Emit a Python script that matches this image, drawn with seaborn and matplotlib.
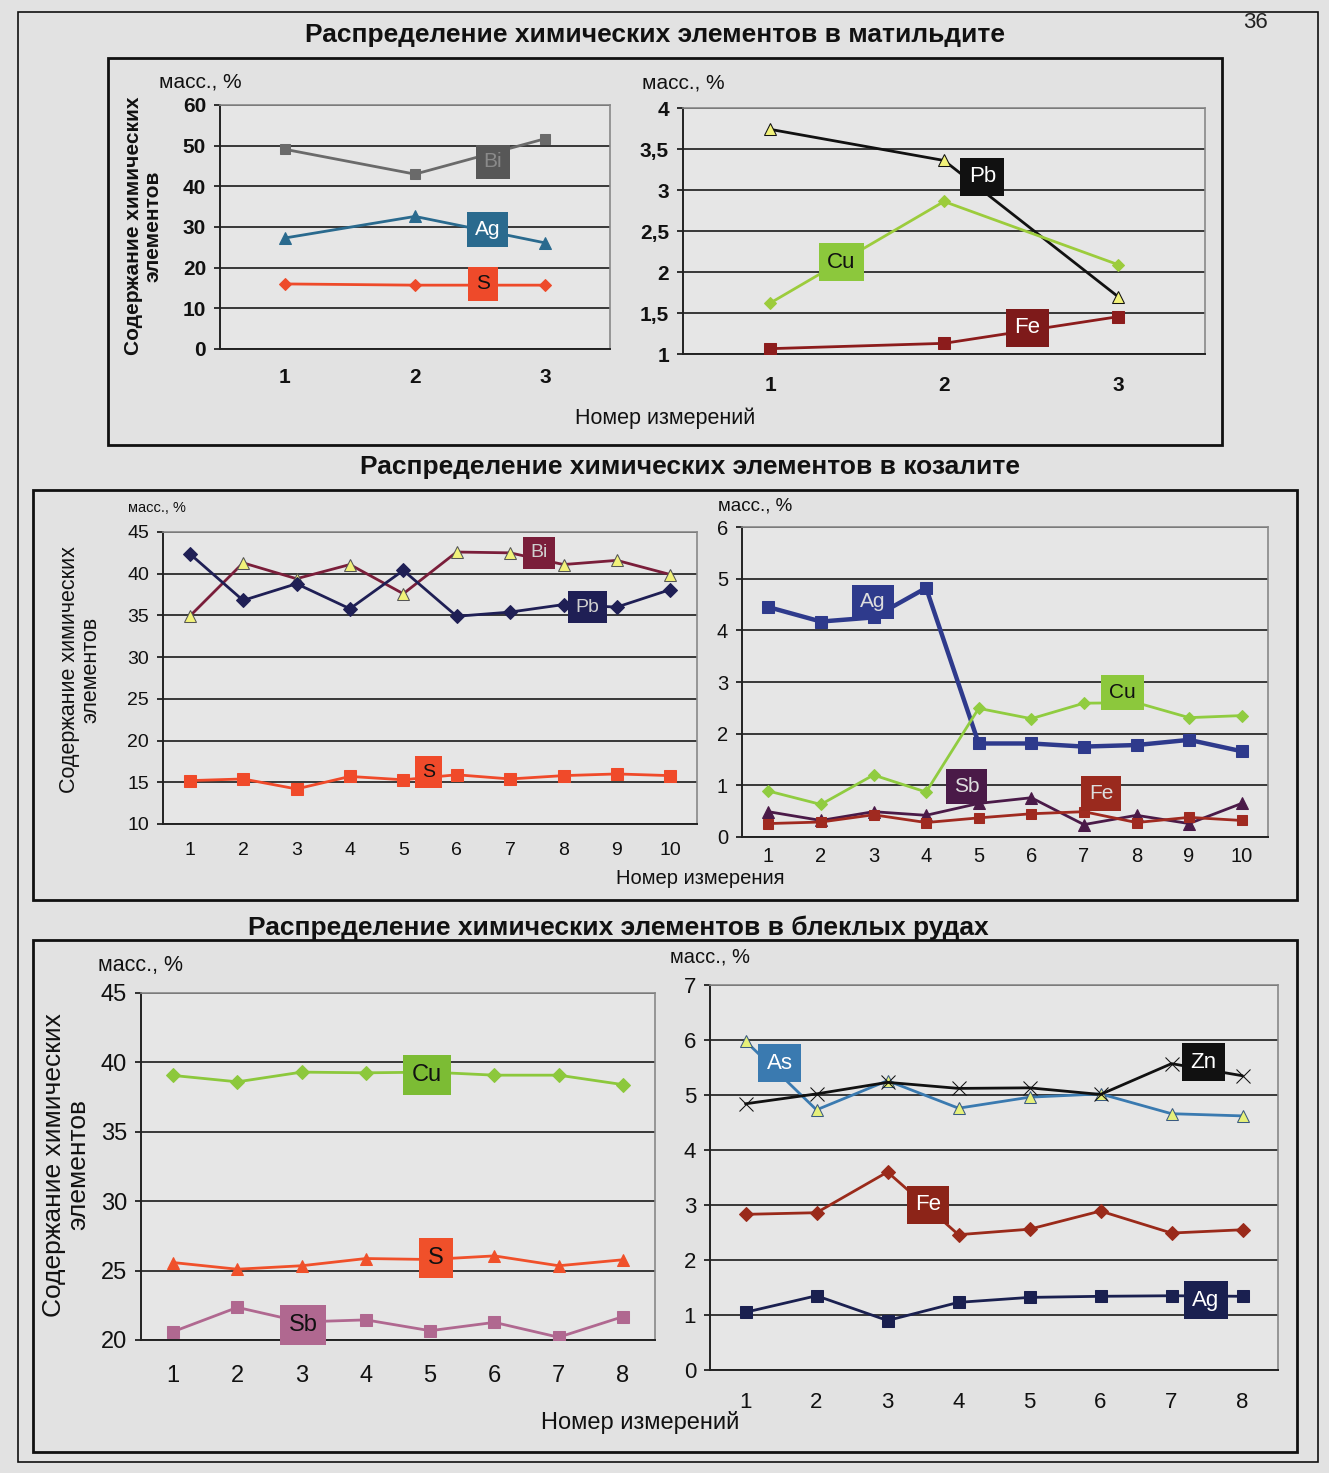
import numpy as np
import pandas as pd
import matplotlib
matplotlib.use('Agg')
import matplotlib.pyplot as plt
import seaborn as sns
from matplotlib.patches import Rectangle
from matplotlib.ticker import FuncFormatter

# ---------------- data ----------------
mat_x = [1, 2, 3]
mat_bi = [49.1, 43.0, 51.7]
mat_ag = [27.3, 32.6, 26.1]
mat_s = [16.0, 15.7, 15.7]
mat_pb = [3.74, 3.36, 1.70]
mat_cu = [1.62, 2.86, 2.09]
mat_fe = [1.065, 1.13, 1.455]

koz_x = list(range(1, 11))
koz_bi = [34.9, 41.3, 39.4, 41.1, 37.6, 42.6, 42.5, 41.1, 41.6, 39.9]
koz_pb = [42.4, 36.8, 38.8, 35.8, 40.4, 34.9, 35.4, 36.3, 36.0, 38.1]
koz_s = [15.2, 15.4, 14.2, 15.7, 15.3, 15.9, 15.4, 15.8, 16.0, 15.8]
koz_ag = [4.45, 4.17, 4.25, 4.82, 1.81, 1.81, 1.75, 1.78, 1.88, 1.66]
koz_cu = [0.89, 0.63, 1.20, 0.87, 2.49, 2.29, 2.59, 2.60, 2.31, 2.35]
koz_sb = [0.49, 0.32, 0.49, 0.42, 0.65, 0.76, 0.24, 0.42, 0.26, 0.65]
koz_fe = [0.26, 0.29, 0.43, 0.28, 0.37, 0.45, 0.49, 0.28, 0.38, 0.32]

ble_x = list(range(1, 9))
ble_cu = [39.06, 38.6, 39.3, 39.25, 39.3, 39.08, 39.08, 38.4]
ble_s = [25.58, 25.1, 25.35, 25.87, 25.8, 26.06, 25.35, 25.78]
ble_sb = [20.6, 22.35, 21.3, 21.45, 20.67, 21.27, 20.2, 21.68]
ble_as = [5.98, 4.73, 5.26, 4.76, 4.96, 5.02, 4.66, 4.62]
ble_zn = [4.84, 5.02, 5.23, 5.12, 5.13, 5.01, 5.57, 5.35]
ble_fe = [2.83, 2.86, 3.60, 2.46, 2.56, 2.89, 2.49, 2.55]
ble_ag = [1.05, 1.35, 0.90, 1.23, 1.32, 1.34, 1.35, 1.34]

titles = ["Распределение химических элементов в матильдите",
          "Распределение химических элементов в козалите",
          "Распределение химических элементов в блеклых рудах"]
ylabel_text = "Содержание химических\nэлементов"
unit_text = "масс., %"
xlabels = ["Номер измерений", "Номер измерения", "Номер измерений"]

# ---------------- style ----------------
sns.set_style("white")
plt.rcParams['font.family'] = ['Liberation Sans', 'DejaVu Sans']

W, H = 1329, 1473
BG = '#e2e2e2'
fig = plt.figure(figsize=(W / 100, H / 100), dpi=100, facecolor=BG)


def add_ax(l, t, r, b):
    ax = fig.add_axes([l / W, 1 - b / H, (r - l) / W, (b - t) / H])
    ax.set_facecolor('#e6e6e6')
    return ax


def comma(v, pos):
    s = ('%g' % v)
    return s.replace('.', ',')


def style(ax, n, ylim, yticks, fs, xpad, ypad=6, bold=False):
    ax.set_xlim(0.5, n + 0.5)
    ax.set_ylim(*ylim)
    ax.set_yticks(yticks)
    ax.yaxis.set_major_formatter(FuncFormatter(comma))
    ax.set_xticks(np.arange(0.5, n + 1, 1))
    ax.set_xticklabels([])
    ax.set_xticks(range(1, n + 1), minor=True)
    ax.set_xticklabels([str(i) for i in range(1, n + 1)], minor=True)
    ax.tick_params(axis='x', which='minor', length=0, labelsize=fs, pad=xpad, colors='#111')
    ax.tick_params(axis='x', which='major', length=5, width=1.2, direction='out', color='#222')
    ax.tick_params(axis='y', length=4, width=1.2, direction='out', labelsize=fs, pad=ypad,
                   colors='#111', left=True)
    if bold:
        for lab in ax.get_yticklabels() + ax.get_xticklabels(minor=True):
            lab.set_fontweight('bold')
    ax.grid(axis='y', color='#2a2a2a', lw=1.3)
    ax.grid(axis='x', visible=False)
    ax.set_axisbelow(True)
    for sp in ['top', 'right']:
        ax.spines[sp].set_color('#888')
        ax.spines[sp].set_linewidth(1.2)
    for sp in ['left', 'bottom']:
        ax.spines[sp].set_color('#222')
        ax.spines[sp].set_linewidth(1.4)
    ax.set_xlabel('')
    ax.set_ylabel('')


def line(ax, x, y, color, marker, ms, mfc=None, mec=None, lw=2.0):
    sns.lineplot(x=x, y=y, ax=ax, color=color, marker=marker, markersize=ms,
                 markerfacecolor=mfc if mfc else color,
                 markeredgecolor=mec if mec else color, linewidth=lw, zorder=3)


def tag(ax, x, y, txt, fc, tc, fs, pad=0.38):
    ax.text(x, y, txt, ha='center', va='center', fontsize=fs, color=tc, zorder=6,
            bbox=dict(boxstyle='square,pad=%g' % pad, fc=fc, ec='none'))


def ftext(x, y, s, **kw):
    fig.text(x / W, 1 - y / H, s, **kw)


# ---------------- frames and titles ----------------
for (l, t, r, b, lw) in [(18, 12, 1318, 1462, 1.2), (108, 58, 1222, 445, 2.0),
                         (33, 490, 1297, 900, 2.0), (33, 940, 1297, 1452, 2.0)]:
    fig.add_artist(Rectangle((l / W, 1 - b / H), (r - l) / W, (b - t) / H,
                             transform=fig.transFigure, fill=False, ec='#111', lw=lw))

ftext(1255, 22, "36", ha='center', va='center', fontsize=16, color='#222')
ftext(655, 35, titles[0], ha='center', va='center', fontsize=19, fontweight='bold', color='#111')
ftext(690, 467, titles[1], ha='center', va='center', fontsize=19, fontweight='bold', color='#111')
ftext(618, 928, titles[2], ha='center', va='center', fontsize=19, fontweight='bold', color='#111')

# ---------------- panel 1: matildite main ----------------
ax1 = add_ax(220, 105, 610, 349)
line(ax1, mat_x, mat_bi, '#6a6a6a', 's', 7)
line(ax1, mat_x, mat_ag, '#2a6a8e', '^', 8)
line(ax1, mat_x, mat_s, '#ee4a2a', 'D', 6)
style(ax1, 3, (0, 60), range(0, 61, 10), 15, 14, bold=True)
tag(ax1, 2.6, 46, "Bi", '#575757', '#8a8a8a', 15)
tag(ax1, 2.56, 29.3, "Ag", '#2a6a8e', 'white', 15)
tag(ax1, 2.52, 16, "S", '#ee4a2a', '#111', 15)
ftext(200, 82, unit_text, ha='center', va='center', fontsize=15, color='#111')
ftext(143, 226, ylabel_text, ha='center', va='center', rotation=90, fontsize=15,
      fontweight='bold', multialignment='center', color='#111', linespacing=1.05)

# ---------------- panel 2: matildite minor ----------------
ax2 = add_ax(683, 108, 1205, 354)
line(ax2, mat_x, mat_pb, '#111111', '^', 9, mfc='#f2f27a', mec='#111')
line(ax2, mat_x, mat_cu, '#9ccc3c', 'D', 6)
line(ax2, mat_x, mat_fe, '#8c1c1c', 's', 8)
style(ax2, 3, (1, 4), np.arange(1, 4.01, 0.5), 15, 16, bold=True)
tag(ax2, 2.22, 3.16, "Pb", '#111111', 'white', 16)
tag(ax2, 1.41, 2.12, "Cu", '#8cc83c', '#111', 16)
tag(ax2, 2.48, 1.32, "Fe", '#7e1a1a', 'white', 16)
ftext(683, 83, unit_text, ha='center', va='center', fontsize=15, color='#111')
ftext(665, 418, xlabels[0], ha='center', va='center', fontsize=15.5, color='#111')

# ---------------- panel 3: kozalite main ----------------
ax3 = add_ax(163, 532, 697, 824)
line(ax3, koz_x, koz_bi, '#7a1e3a', '^', 8, mfc='#f2f27a', mec='#555')
line(ax3, koz_x, koz_pb, '#1f1f55', 'D', 7)
line(ax3, koz_x, koz_s, '#f04a2a', 's', 8)
style(ax3, 10, (10, 45), range(10, 46, 5), 14, 13)
tag(ax3, 7.54, 42.5, "Bi", '#7a1e3a', '#cfcfcf', 14)
tag(ax3, 8.45, 36.0, "Pb", '#1f1f55', '#cfcfcf', 14)
tag(ax3, 5.47, 16.2, "S", '#f04a2a', '#111', 14)
ftext(157, 508, unit_text, ha='center', va='center', fontsize=10.5, color='#111')
ftext(80, 670, ylabel_text, ha='center', va='center', rotation=90, fontsize=15.5,
      multialignment='center', color='#111', linespacing=1.05)

# ---------------- panel 4: kozalite minor ----------------
ax4 = add_ax(742, 527, 1268, 837)
line(ax4, koz_x, koz_ag, '#2e3a8c', 's', 8, lw=3.2)
line(ax4, koz_x, koz_cu, '#90cc40', 'D', 6)
line(ax4, koz_x, koz_sb, '#4a1a48', '^', 8)
line(ax4, koz_x, koz_fe, '#a02a20', 's', 7)
style(ax4, 10, (0, 6), range(0, 7), 14.5, 7)
tag(ax4, 2.99, 4.55, "Ag", '#2e3a8c', '#dddddd', 15)
tag(ax4, 7.73, 2.79, "Cu", '#8cc83c', '#111', 15)
tag(ax4, 4.77, 0.97, "Sb", '#4a1a48', '#dddddd', 15)
tag(ax4, 7.33, 0.85, "Fe", '#9a2a1e', '#dddddd', 15)
ftext(755, 506, unit_text, ha='center', va='center', fontsize=13.5, color='#111')
ftext(700, 878, xlabels[1], ha='center', va='center', fontsize=14.5, color='#111')

# ---------------- panel 5: fahlore main ----------------
ax5 = add_ax(141, 993, 655, 1340)
line(ax5, ble_x, ble_cu, '#8cc83c', 'D', 7)
line(ax5, ble_x, ble_s, '#f0502a', '^', 9)
line(ax5, ble_x, ble_sb, '#b06890', 's', 9)
style(ax5, 8, (20, 45), range(20, 46, 5), 17, 18)
tag(ax5, 4.95, 39.1, "Cu", '#7cbc34', '#111', 17)
tag(ax5, 5.09, 25.9, "S", '#f0502a', '#111', 17)
tag(ax5, 3.02, 21.1, "Sb", '#b06890', '#111', 17)
ftext(140, 965, unit_text, ha='center', va='center', fontsize=15.5, color='#111')
ftext(66, 1165, ylabel_text, ha='center', va='center', rotation=90, fontsize=19,
      multialignment='center', color='#111', linespacing=1.0)

# ---------------- panel 6: fahlore minor ----------------
ax6 = add_ax(710, 985, 1278, 1370)
line(ax6, ble_x, ble_as, '#3a7ab0', '^', 9, mfc='#e6f07a', mec='#3a5a80')
line(ax6, ble_x, ble_zn, '#111111', 'x', 10, lw=2.0)
line(ax6, ble_x, ble_fe, '#9a2a1a', 'D', 7)
line(ax6, ble_x, ble_ag, '#1a2050', 's', 9)
style(ax6, 8, (0, 7), range(0, 8), 16, 16)
tag(ax6, 1.48, 5.58, "As", '#3a7ab0', 'white', 16)
tag(ax6, 7.45, 5.6, "Zn", '#111111', 'white', 16)
tag(ax6, 3.57, 3.0, "Fe", '#8c2418', 'white', 16)
tag(ax6, 7.48, 1.27, "Ag", '#1a2050', 'white', 16)
ftext(710, 957, unit_text, ha='center', va='center', fontsize=14.5, color='#111')
ftext(640, 1422, xlabels[2], ha='center', va='center', fontsize=17, color='#111')

fig.savefig('out.png', dpi=100, facecolor=BG)
